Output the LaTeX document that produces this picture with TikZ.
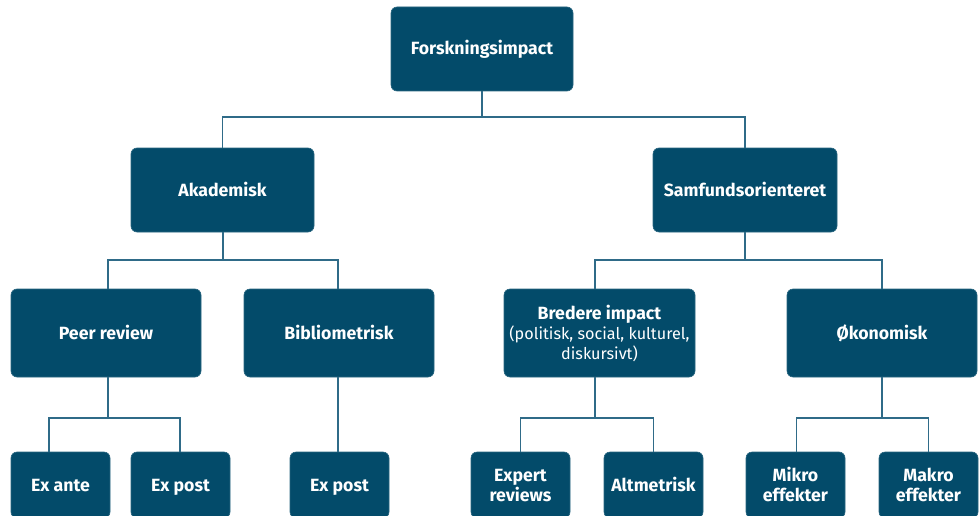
\documentclass[tikz,border=0pt]{standalone}
\usepackage{fontspec}
\setmainfont{Fira Sans}
\definecolor{boxblue}{HTML}{034B6A}
\definecolor{linkblue}{HTML}{2F6B88}
\newcommand{\reglines}{\fontsize{16.2}{20}\selectfont\mdseries}
\newcommand{\bs}{\rule[-4pt]{0pt}{20pt}}
\tikzset{
  box/.style={fill=boxblue, draw=boxblue!85!white, line width=0.6pt, rounded corners=6pt,
    text=white, align=center, inner sep=0pt, font=\fontsize{17.7}{20}\selectfont\bfseries},
  link/.style={draw=linkblue, line width=1.3pt},
}
\begin{document}
\begin{tikzpicture}[x=1pt,y=-1pt]
\useasboundingbox (0,0) rectangle (979,516);
% level 1
\node[box, minimum width=182pt, minimum height=84pt] (top) at (482,49) {\bs Forskningsimpact\bs};
% level 2
\node[box, minimum width=183pt, minimum height=84pt] (aka) at (222.5,190) {\bs Akademisk\bs};
\node[box, minimum width=184pt, minimum height=84pt] (sam) at (745,190) {\bs Samfundsorienteret\bs};
% level 3
\node[box, minimum width=190pt, minimum height=88pt] (peer) at (106,333) {\bs Peer review\bs};
\node[box, minimum width=190pt, minimum height=88pt] (bib) at (339,333) {\bs Bibliometrisk\bs};
\node[box, minimum width=191pt, minimum height=88pt] (bred) at (599.5,333) {\bs Bredere impact\\{\reglines (politisk, social, kulturel,}\\{\reglines diskursivt)\bs}};
\node[box, minimum width=190pt, minimum height=88pt] (oko) at (882,333) {\bs Økonomisk\bs};
% level 4
\node[box, minimum width=99pt, minimum height=66pt] (exante) at (60.5,485) {\bs Ex ante\bs};
\node[box, minimum width=99pt, minimum height=66pt] (expostA) at (180.5,485) {\bs Ex post\bs};
\node[box, minimum width=99pt, minimum height=66pt] (expostB) at (339.5,485) {\bs Ex post\bs};
\node[box, minimum width=99pt, minimum height=66pt] (expert) at (520.5,485) {\bs Expert\\reviews\bs};
\node[box, minimum width=99pt, minimum height=66pt] (alt) at (653.5,485) {\bs Altmetrisk\bs};
\node[box, minimum width=99pt, minimum height=66pt] (mikro) at (795.5,485) {\bs Mikro\\effekter\bs};
\node[box, minimum width=99pt, minimum height=66pt] (makro) at (928.5,485) {\bs Makro\\effekter\bs};
% junctions
\coordinate (j0) at (482,117);
\coordinate (j1) at (223,260);
\coordinate (j2) at (745,260);
\coordinate (j3) at (108,418);
\coordinate (j4) at (595,418);
\coordinate (j5) at (882,418);
% connectors
\draw[link] (top.south) -- (j0);
\draw[link] (j0) -| (aka.north);
\draw[link] (j0) -| (sam.north);
\draw[link] ([xshift=0.5pt]aka.south) -- (j1);
\draw[link] (j1) -| ([xshift=2pt]peer.north);
\draw[link] (j1) -| ([xshift=-1pt]bib.north);
\draw[link] (sam.south) -- (j2);
\draw[link] (j2) -| ([xshift=-4.5pt]bred.north);
\draw[link] (j2) -| (oko.north);
\draw[link] ([xshift=2pt]peer.south) -- (j3);
\draw[link] (j3) -| ([xshift=-11.5pt]exante.north);
\draw[link] (j3) -| ([xshift=-0.5pt]expostA.north);
\draw[link] ([xshift=-1pt]bib.south) -- ([xshift=-1.5pt]expostB.north);
\draw[link] ([xshift=-4.5pt]bred.south) -- (j4);
\draw[link] (j4) -| (expert.north);
\draw[link] (j4) -| (alt.north);
\draw[link] (oko.south) -- (j5);
\draw[link] (j5) -| ([xshift=1pt]mikro.north);
\draw[link] (j5) -| (makro.north);
\end{tikzpicture}
\end{document}
